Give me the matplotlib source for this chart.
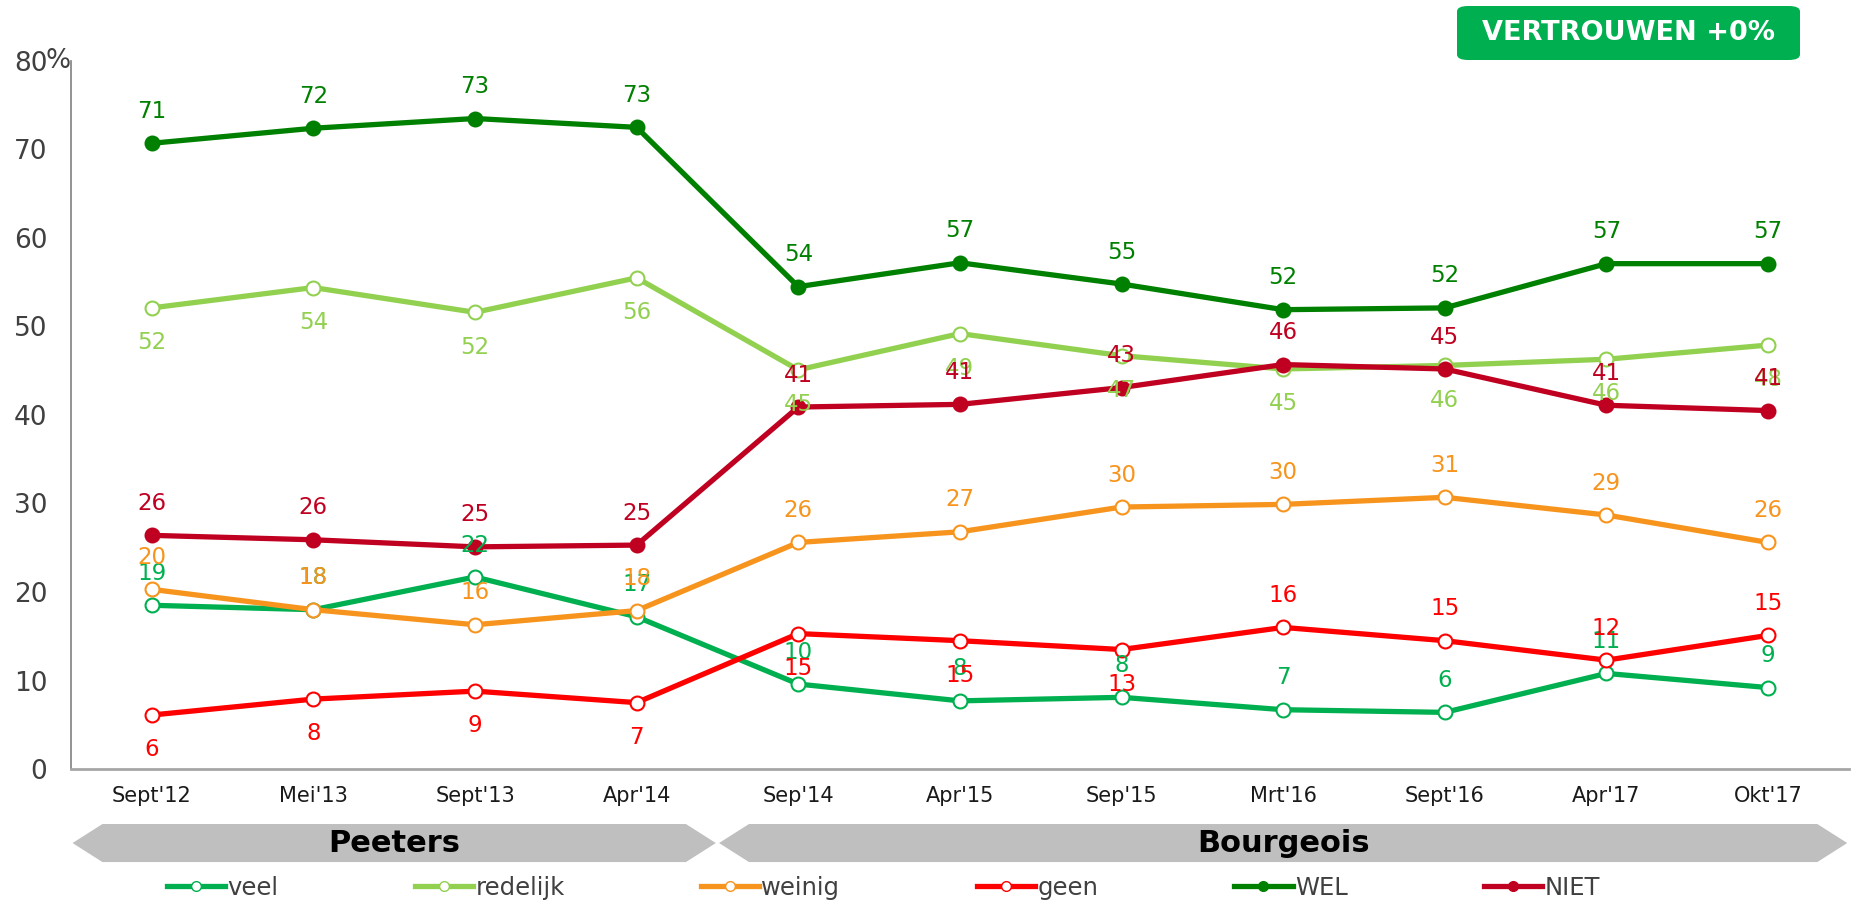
import numpy as np
import matplotlib.pyplot as plt
from matplotlib.patches import Polygon, FancyBboxPatch
from matplotlib.lines import Line2D
import matplotlib.transforms as mtransforms

## Data
periodes = ["Sept'12", "Mei'13", "Sept'13", "Apr'14", "Sep'14", "Apr'15",
            "Sep'15", "Mrt'16", "Sept'16", "Apr'17", "Okt'17"]

veel     = [18.5, 18.0, 21.7, 17.2, 9.6, 7.7, 8.1, 6.7, 6.4, 10.8, 9.2]
redelijk = [52.1, 54.4, 51.6, 55.5, 45.1, 49.2, 46.7, 45.2, 45.6, 46.3, 47.9]
weinig   = [20.3, 18.0, 16.3, 17.9, 25.6, 26.8, 29.6, 29.9, 30.7, 28.7, 25.6]
geen     = [6.1, 7.9, 8.8, 7.5, 15.3, 14.5, 13.5, 16.0, 14.5, 12.3, 15.1]
wel      = [70.7, 72.4, 73.5, 72.5, 54.5, 57.2, 54.8, 51.9, 52.1, 57.1, 57.1]
niet     = [26.4, 25.9, 25.1, 25.3, 40.9, 41.2, 43.1, 45.7, 45.2, 41.1, 40.5]

## labels zoals op de grafiek
veel_lbl     = [19, 18, 22, 17, 10, 8, 8, 7, 6, 11, 9]
redelijk_lbl = [52, 54, 52, 56, 45, 49, 47, 45, 46, 46, 48]
weinig_lbl   = [20, 18, 16, 18, 26, 27, 30, 30, 31, 29, 26]
geen_lbl     = [6, 8, 9, 7, 15, 15, 13, 16, 15, 12, 15]
wel_lbl      = [71, 72, 73, 73, 54, 57, 55, 52, 52, 57, 57]
niet_lbl     = [26, 26, 25, 25, 41, 41, 43, 46, 45, 41, 41]

## premiers: naam, eerste en laatste periode-index
premiers = [("Peeters", 0, 3), ("Bourgeois", 4, 10)]

## Figuur
fig = plt.figure(figsize=(18.52, 9.06), dpi=100)
ax = fig.add_axes([0.0383, 0.1512, 0.960, 0.7815])

x = np.arange(len(periodes))

reeksen = [
    ("veel", veel, veel_lbl, '#00B050', False, ['a'] * 11),
    ("redelijk", redelijk, redelijk_lbl, '#92D050', False, ['b'] * 11),
    ("weinig", weinig, weinig_lbl, '#F7941D', False, ['a'] * 11),
    ("geen", geen, geen_lbl, '#FF0000', False, ['b'] * 7 + ['a'] * 4),
    ("WEL", wel, wel_lbl, '#008000', True, ['a'] * 11),
    ("NIET", niet, niet_lbl, '#C00020', True, ['a'] * 11),
]

handles = []
for naam, waarden, lbls, kleur, vol, pos in reeksen:
    face = kleur if vol else 'white'
    ax.plot(x, waarden, color=kleur, linewidth=3.8, marker='o', markersize=10,
            markerfacecolor=face, markeredgecolor=kleur, markeredgewidth=1.5,
            solid_joinstyle='round', zorder=3)
    for xi, yi, l, p in zip(x, waarden, lbls, pos):
        dy = 23 if p == 'a' else -25
        ax.annotate(str(l), (xi, yi), xytext=(0, dy), textcoords='offset points',
                    ha='center', va='center', fontsize=16.5, color=kleur, zorder=5)
    handles.append(Line2D([0], [0], color=kleur, linewidth=3.8, marker='o',
                          markersize=7, markerfacecolor=face,
                          markeredgecolor=kleur, label=naam))

ax.set_xlim(-0.5, len(periodes) - 0.5)
ax.set_ylim(0, 80)
ax.set_yticks([0, 10, 20, 30, 40, 50, 60, 70, 80])
ax.set_yticklabels(['0', '10', '20', '30', '40', '50', '60', '70', '80'])
ax.set_xticks(x)
ax.set_xticklabels(periodes)
ax.tick_params(axis='y', length=0, pad=17, labelsize=19, labelcolor='#404040')
ax.tick_params(axis='x', length=0, pad=12, labelsize=15, labelcolor='#1a1a1a')
for s in ['top', 'right']:
    ax.spines[s].set_visible(False)
ax.spines['left'].set_color('#808080')
ax.spines['left'].set_linewidth(1.2)
ax.spines['bottom'].set_color('#A6A6A6')
ax.spines['bottom'].set_linewidth(2)

## procent teken bij 80
ax.text(-0.5, 80, '%', transform=ax.transData, ha='right', va='center',
        fontsize=19, color='#404040')

## premier-balken onder de as
trans = mtransforms.blended_transform_factory(ax.transData, ax.transAxes)
y_top, y_bot = -0.0777, -0.1314
y_mid = (y_top + y_bot) / 2
punt = 0.185
for naam, start, eind in premiers:
    x0 = start - 0.5 + 0.01
    x1 = eind + 0.5 - 0.01
    poly = Polygon([[x0, y_mid], [x0 + punt, y_top], [x1 - punt, y_top],
                    [x1, y_mid], [x1 - punt, y_bot], [x0 + punt, y_bot]],
                   closed=True, facecolor='#BFBFBF', edgecolor='none',
                   transform=trans, clip_on=False)
    ax.add_patch(poly)
    ax.text((x0 + x1) / 2, y_mid, naam, transform=trans, ha='center',
            va='center', fontsize=22, fontweight='bold', color='black')

## legenda
fig.legend(handles=handles, loc='center', bbox_to_anchor=(0.477, 0.02),
           ncol=6, frameon=False, fontsize=17.5, handlelength=2.4,
           handletextpad=0.1, columnspacing=5.6, labelcolor='#404040')

## badge
badge = FancyBboxPatch((1457 / 1852, 1 - 60 / 906), 343 / 1852, 54 / 906,
                       boxstyle='round,pad=0,rounding_size=0.006',
                       transform=fig.transFigure, facecolor='#00B050',
                       edgecolor='none')
fig.patches.append(badge)
fig.text(1628 / 1852, 1 - 33 / 906, 'VERTROUWEN +0%', ha='center', va='center',
         fontsize=19.5, fontweight='bold', color='white')

plt.savefig('out.png', dpi=100)
